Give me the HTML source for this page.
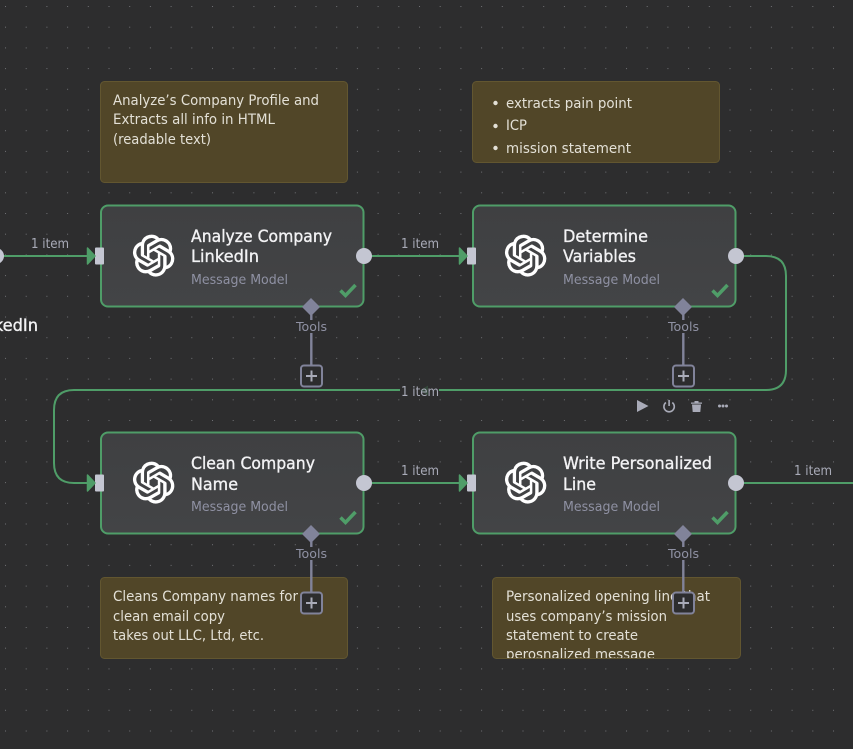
<!DOCTYPE html>
<html><head><meta charset="utf-8"><style>
html,body{margin:0;padding:0;background:#2d2d2e;width:853px;height:749px;overflow:hidden}
svg{display:block}
text{font-family:"DejaVu Sans",sans-serif}
.t{font-size:16.500px;fill:#f2f2f4;stroke:#f2f2f4;stroke-width:.35px}
.s{font-size:13.500px;fill:#8f91a3}
.n{font-size:14px;fill:#e3e0d6}
.i{font-size:13px;fill:#a9abb8}
.o{font-size:12.500px;fill:#8f91a3}
</style></head><body>
<svg width="853" height="749" viewBox="0 0 853 749" xmlns="http://www.w3.org/2000/svg">
<defs>
<pattern id="g" x="5" y="6" width="20.7" height="20.7" patternUnits="userSpaceOnUse"><rect x="0" y="0" width="1" height="1" fill="#6f7074"/></pattern>
<linearGradient id="nf" x1="0" y1="0" x2="0" y2="1"><stop offset="0" stop-color="#3f4042"/><stop offset="1" stop-color="#434446"/></linearGradient>
<path id="oa" d="M22.2819 9.8211a5.9847 5.9847 0 0 0-.5157-4.9108 6.0462 6.0462 0 0 0-6.5098-2.9A6.0651 6.0651 0 0 0 4.9807 4.1818a5.9847 5.9847 0 0 0-3.9977 2.9 6.0462 6.0462 0 0 0 .7427 7.0966 5.98 5.98 0 0 0 .511 4.9107 6.051 6.051 0 0 0 6.5146 2.9001A5.9847 5.9847 0 0 0 13.2599 24a6.0557 6.0557 0 0 0 5.7718-4.2058 5.9894 5.9894 0 0 0 3.9977-2.9001 6.0557 6.0557 0 0 0-.7475-7.0729zm-9.022 12.6081a4.4755 4.4755 0 0 1-2.8764-1.0408l.1419-.0804 4.7783-2.7582a.7948.7948 0 0 0 .3927-.6813v-6.7369l2.02 1.1686a.071.071 0 0 1 .038.052v5.5826a4.504 4.504 0 0 1-4.4945 4.4944zm-9.6607-4.1254a4.4708 4.4708 0 0 1-.5346-3.0137l.142.0852 4.783 2.7582a.7712.7712 0 0 0 .7806 0l5.8428-3.3685v2.3324a.0804.0804 0 0 1-.0332.0615L9.74 19.9502a4.4992 4.4992 0 0 1-6.1408-1.6464zM2.3408 7.8956a4.485 4.485 0 0 1 2.3655-1.9728V11.6a.7664.7664 0 0 0 .3879.6765l5.8144 3.3543-2.0201 1.1685a.0757.0757 0 0 1-.071 0l-4.8303-2.7865A4.504 4.504 0 0 1 2.3408 7.872zm16.5963 3.8558L13.1038 8.364 15.1192 7.2a.0757.0757 0 0 1 .071 0l4.8303 2.7913a4.4944 4.4944 0 0 1-.6765 8.1042v-5.6772a.79.79 0 0 0-.407-.667zm2.0107-3.0231l-.142-.0852-4.7735-2.7818a.7759.7759 0 0 0-.7854 0L9.409 9.2297V6.8974a.0662.0662 0 0 1 .0284-.0615l4.8303-2.7866a4.4992 4.4992 0 0 1 6.6802 4.66zM8.3065 12.863l-2.02-1.1638a.0804.0804 0 0 1-.038-.0567V6.0742a4.4992 4.4992 0 0 1 7.3757-3.4537l-.142.0805L8.704 5.459a.7948.7948 0 0 0-.3927.6813zm1.0976-2.3654l2.602-1.4998 2.6069 1.4998v2.9994l-2.5974 1.4997-2.6067-1.4997Z"/>
<g id="node">
<rect x="1" y="1" width="262.500" height="101" rx="7" fill="url(#nf)" stroke="#4f9d68" stroke-width="2"/>
<use href="#oa" transform="translate(33 30.500) scale(1.72)" fill="#fff" stroke="#fff" stroke-width=".38"/>
<path d="M240.500 86l5 5 10-10.500" fill="none" stroke="#4f9d68" stroke-width="3.500"/>
<rect x="-5" y="43" width="9" height="17" rx="1" fill="#c4c6d2"/>
<path d="M-12.500 43.500L-5 51.500L-12.500 59.500Z" fill="#4f9d68" stroke="#4f9d68" stroke-width="1.500" stroke-linejoin="round"/>
<circle cx="264" cy="51.500" r="8" fill="#c4c6d2"/>
</g>
<g id="tool">
<path d="M211.300 102.500v58" stroke="#81839a" stroke-width="2.400" fill="none"/>
<path d="M211 93.500l9 9-9 9-9-9z" fill="#81839a"/>
<rect x="201" y="161" width="21" height="21" rx="3" fill="#2d2d2e" stroke="#81839a" stroke-width="2"/>
<path d="M211.500 166v11M206 171.500h11" stroke="#a9abb8" stroke-width="2" fill="none"/>
</g>
<clipPath id="nc"><rect x="492" y="577" width="249" height="81"/></clipPath>
</defs>

<rect width="853" height="749" fill="#2d2d2e"/>
<rect width="853" height="749" fill="url(#g)"/>

<!-- notes -->
<g fill="#514628" stroke="#625630" stroke-width="1">
<rect x="100.500" y="81.500" width="247" height="101" rx="4"/>
<rect x="472.500" y="81.500" width="247" height="81" rx="4"/>
<rect x="100.500" y="577.500" width="247" height="81" rx="4"/>
<rect x="492.500" y="577.500" width="248" height="81" rx="4"/>
</g>
<g>
<text class="n" x="113" y="105" textLength="206" lengthAdjust="spacingAndGlyphs">Analyze’s Company Profile and</text>
<text class="n" x="113" y="124" textLength="162" lengthAdjust="spacingAndGlyphs">Extracts all info in HTML</text>
<text class="n" x="113" y="144" textLength="98" lengthAdjust="spacingAndGlyphs">(readable text)</text>
<circle cx="495.500" cy="103" r="2.200" fill="#e3e0d6"/>
<circle cx="495.500" cy="126" r="2.200" fill="#e3e0d6"/>
<circle cx="495.500" cy="148" r="2.200" fill="#e3e0d6"/>
<text class="n" x="506" y="108" textLength="126" lengthAdjust="spacingAndGlyphs">extracts pain point</text>
<text class="n" x="506" y="130" textLength="21" lengthAdjust="spacingAndGlyphs">ICP</text>
<text class="n" x="506" y="153" textLength="125" lengthAdjust="spacingAndGlyphs">mission statement</text>
<text class="n" x="113" y="601" textLength="185" lengthAdjust="spacingAndGlyphs">Cleans Company names for</text>
<text class="n" x="113" y="621" textLength="112" lengthAdjust="spacingAndGlyphs">clean email copy</text>
<text class="n" x="113" y="640" textLength="151" lengthAdjust="spacingAndGlyphs">takes out LLC, Ltd, etc.</text>
<g clip-path="url(#nc)">
<text class="n" x="506" y="601" textLength="204" lengthAdjust="spacingAndGlyphs">Personalized opening line that</text>
<text class="n" x="506" y="621" textLength="161" lengthAdjust="spacingAndGlyphs">uses company’s mission</text>
<text class="n" x="506" y="640" textLength="132" lengthAdjust="spacingAndGlyphs">statement to create</text>
<text class="n" x="506" y="659" textLength="149" lengthAdjust="spacingAndGlyphs">perosnalized message</text>
</g>
</g>

<!-- connectors -->
<g fill="none" stroke="#4f9d68" stroke-width="2">
<path d="M0 256H90"/>
<path d="M364 256H462"/>
<path d="M736 256H766Q786 256 786 276V370Q786 390 766 390H74Q54 390 54 410V463Q54 483 74 483H90"/>
<path d="M364 483H462"/>
<path d="M736 483H853"/>
</g>
<circle cx="-4" cy="256" r="8" fill="#c4c6d2"/>

<!-- nodes -->
<use href="#node" x="100" y="204.500"/>
<use href="#node" x="472" y="204.500"/>
<use href="#node" x="100" y="431.500"/>
<use href="#node" x="472" y="431.500"/>
<use href="#tool" x="100" y="204.500"/>
<use href="#tool" x="472" y="204.500"/>
<use href="#tool" x="100" y="431.500"/>
<use href="#tool" x="472" y="431.500"/>

<!-- titles -->
<text class="t" x="191" y="242" textLength="141" lengthAdjust="spacingAndGlyphs">Analyze Company</text>
<text class="t" x="191" y="262" textLength="68" lengthAdjust="spacingAndGlyphs">LinkedIn</text>
<text class="s" x="191" y="284" textLength="97" lengthAdjust="spacingAndGlyphs">Message Model</text>
<text class="t" x="563" y="242" textLength="85" lengthAdjust="spacingAndGlyphs">Determine</text>
<text class="t" x="563" y="262" textLength="73" lengthAdjust="spacingAndGlyphs">Variables</text>
<text class="s" x="563" y="284" textLength="97" lengthAdjust="spacingAndGlyphs">Message Model</text>
<text class="t" x="191" y="469" textLength="124" lengthAdjust="spacingAndGlyphs">Clean Company</text>
<text class="t" x="191" y="490" textLength="47" lengthAdjust="spacingAndGlyphs">Name</text>
<text class="s" x="191" y="511" textLength="97" lengthAdjust="spacingAndGlyphs">Message Model</text>
<text class="t" x="563" y="469" textLength="149" lengthAdjust="spacingAndGlyphs">Write Personalized</text>
<text class="t" x="563" y="490" textLength="33" lengthAdjust="spacingAndGlyphs">Line</text>
<text class="s" x="563" y="511" textLength="97" lengthAdjust="spacingAndGlyphs">Message Model</text>
<text class="t" x="-30" y="331" textLength="68" lengthAdjust="spacingAndGlyphs">LinkedIn</text>

<!-- labels -->
<text class="i" x="31" y="248" textLength="38" lengthAdjust="spacingAndGlyphs">1 item</text>
<text class="i" x="401" y="248" textLength="38" lengthAdjust="spacingAndGlyphs">1 item</text>
<rect x="400" y="384" width="39" height="14" fill="#2d2d2e"/>
<path d="M428 385.500L420 390.500L428 395.500Z" fill="#4f9d68" opacity=".25"/>
<text class="i" x="401" y="396" textLength="38" lengthAdjust="spacingAndGlyphs">1 item</text>
<text class="i" x="401" y="475" textLength="38" lengthAdjust="spacingAndGlyphs">1 item</text>
<text class="i" x="794" y="475" textLength="38" lengthAdjust="spacingAndGlyphs">1 item</text>

<g>
<rect x="295" y="320" width="33" height="13" fill="#2d2d2e"/><text class="o" x="296" y="331" textLength="31" lengthAdjust="spacingAndGlyphs">Tools</text>
<rect x="667" y="320" width="33" height="13" fill="#2d2d2e"/><text class="o" x="668" y="331" textLength="31" lengthAdjust="spacingAndGlyphs">Tools</text>
<rect x="295" y="547" width="33" height="13" fill="#2d2d2e"/><text class="o" x="296" y="558" textLength="31" lengthAdjust="spacingAndGlyphs">Tools</text>
<rect x="667" y="547" width="33" height="13" fill="#2d2d2e"/><text class="o" x="668" y="558" textLength="31" lengthAdjust="spacingAndGlyphs">Tools</text>
</g>

<!-- toolbar -->
<path d="M637 400l11.500 6-11.500 6z" fill="#a9abb8"/>
<path d="M665.900 402.500a5.200 5.200 0 1 0 6.400 0" fill="none" stroke="#a9abb8" stroke-width="1.600"/>
<path d="M669.100 400v6" stroke="#a9abb8" stroke-width="1.600"/>
<path d="M691 402.500h11v1.200h-11zM694.500 401h4v1.500h-4zM692 404.500h9l-.7 7.500h-7.600z" fill="#a9abb8"/>
<circle cx="719.500" cy="406" r="1.500" fill="#a9abb8"/><circle cx="723" cy="406" r="1.500" fill="#a9abb8"/><circle cx="726.500" cy="406" r="1.500" fill="#a9abb8"/>
</svg>
</body></html>
